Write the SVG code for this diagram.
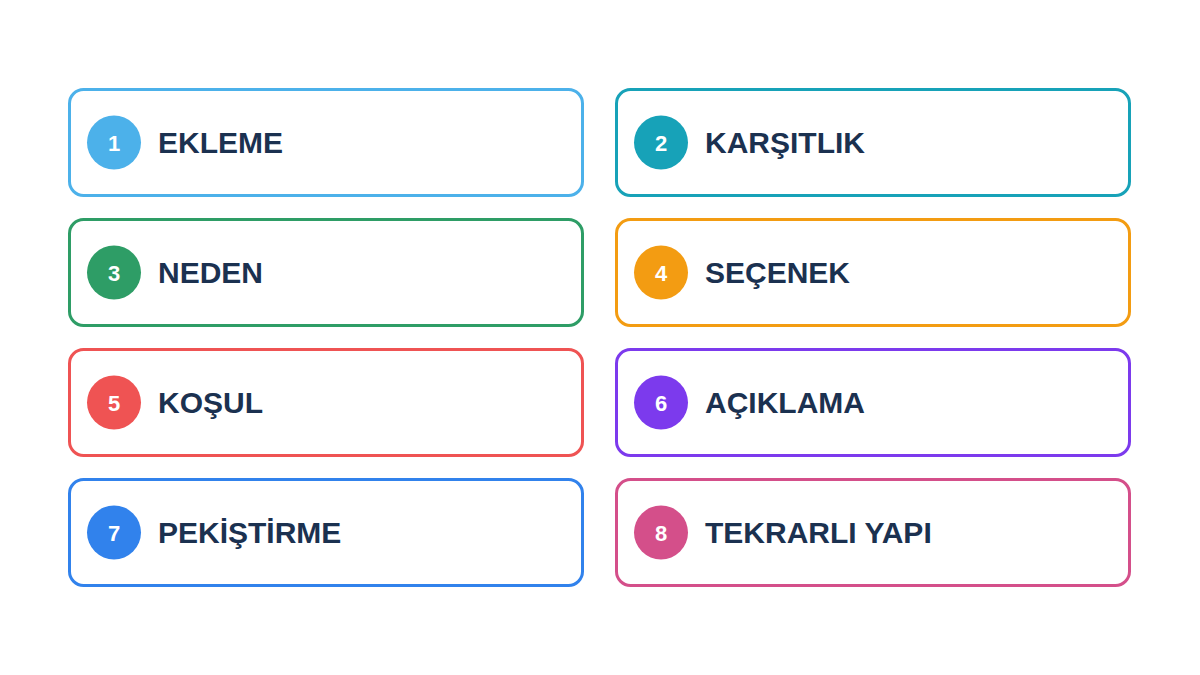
<svg xmlns="http://www.w3.org/2000/svg" width="1200" height="675" viewBox="0 0 1200 675">
<style>
.box{fill:#ffffff;stroke-width:3}
.lbl{font-family:"Liberation Sans",Arial,sans-serif;font-weight:bold;font-size:30px;fill:#1b3150}
.num{font-family:"Liberation Sans",Arial,sans-serif;font-weight:bold;font-size:22px;fill:#ffffff;text-anchor:middle}
</style>
<rect width="1200" height="675" fill="#ffffff"/>
<g id="n1">
<rect class="box" x="69.5" y="89.5" width="513" height="106" rx="14" stroke="#4cb1ea"/>
<circle cx="114" cy="142.5" r="27" fill="#4cb1ea"/>
<text class="num" x="114" y="150.5">1</text>
<text class="lbl" x="158" y="153">EKLEME</text>
</g>
<g id="n2">
<rect class="box" x="616.5" y="89.5" width="513" height="106" rx="14" stroke="#17a2b8"/>
<circle cx="661" cy="142.5" r="27" fill="#17a2b8"/>
<text class="num" x="661" y="150.5">2</text>
<text class="lbl" x="705" y="153">KARŞITLIK</text>
</g>
<g id="n3">
<rect class="box" x="69.5" y="219.5" width="513" height="106" rx="14" stroke="#2e9d66"/>
<circle cx="114" cy="272.5" r="27" fill="#2e9d66"/>
<text class="num" x="114" y="280.5">3</text>
<text class="lbl" x="158" y="283">NEDEN</text>
</g>
<g id="n4">
<rect class="box" x="616.5" y="219.5" width="513" height="106" rx="14" stroke="#f39c12"/>
<circle cx="661" cy="272.5" r="27" fill="#f39c12"/>
<text class="num" x="661" y="280.5">4</text>
<text class="lbl" x="705" y="283">SEÇENEK</text>
</g>
<g id="n5">
<rect class="box" x="69.5" y="349.5" width="513" height="106" rx="14" stroke="#ef5353"/>
<circle cx="114" cy="402.5" r="27" fill="#ef5353"/>
<text class="num" x="114" y="410.5">5</text>
<text class="lbl" x="158" y="413">KOŞUL</text>
</g>
<g id="n6">
<rect class="box" x="616.5" y="349.5" width="513" height="106" rx="14" stroke="#7c3aed"/>
<circle cx="661" cy="402.5" r="27" fill="#7c3aed"/>
<text class="num" x="661" y="410.5">6</text>
<text class="lbl" x="705" y="413">AÇIKLAMA</text>
</g>
<g id="n7">
<rect class="box" x="69.5" y="479.5" width="513" height="106" rx="14" stroke="#3182ec"/>
<circle cx="114" cy="532.5" r="27" fill="#3182ec"/>
<text class="num" x="114" y="540.5">7</text>
<text class="lbl" x="158" y="543">PEKİŞTİRME</text>
</g>
<g id="n8">
<rect class="box" x="616.5" y="479.5" width="513" height="106" rx="14" stroke="#d44f8a"/>
<circle cx="661" cy="532.5" r="27" fill="#d44f8a"/>
<text class="num" x="661" y="540.5">8</text>
<text class="lbl" x="705" y="543">TEKRARLI YAPI</text>
</g>
<g id="connectors"></g>
</svg>
